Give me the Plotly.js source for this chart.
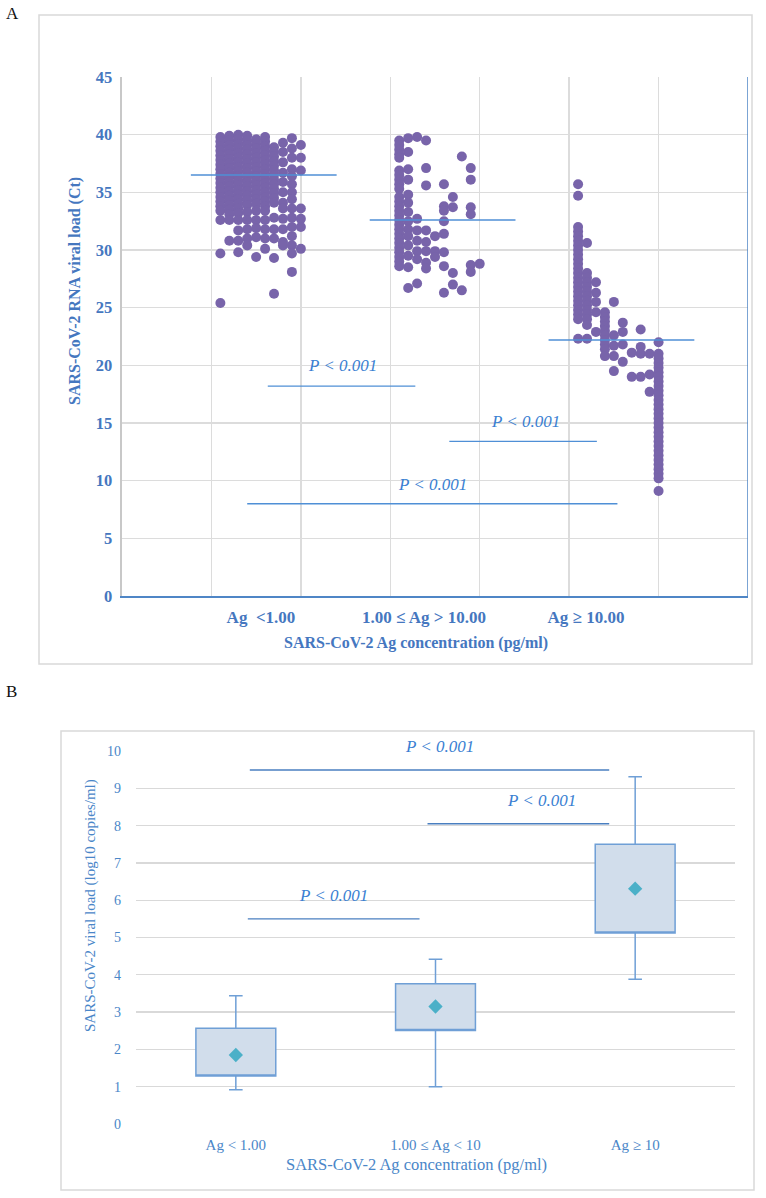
<!DOCTYPE html>
<html>
<head>
<meta charset="utf-8">
<script src="https://cdn.plot.ly/plotly-3.0.1.min.js"></script>
<style>html,body{margin:0;padding:0;background:#fff;}#chart{width:766px;height:1198px;}</style>
</head>
<body>
<div id="chart"></div>
<script>
// ---------- Panel A data (Ct values per jitter column) ----------
const catLabelsA = ['Ag\u00a0 <1.00', '1.00 \u2264 Ag > 10.00', 'Ag \u2265 10.00'];
const catLabelPosA = [1.554, 3.377, 5.188];
const groupStartA = [1, 3, 5];
const columnStep = 0.1;

const ctLow = [
  [39.8,39.4,39.0,38.6,38.2,37.8,37.4,37.0,36.6,36.2,35.8,35.4,35.0,34.6,34.2,33.8,33.4,32.6,29.7,25.4],
  [39.9,39.5,39.1,38.7,38.3,37.9,37.5,37.1,36.7,36.3,35.9,35.5,35.1,34.7,34.3,33.9,33.5,33.1,32.6,30.8],
  [40.0,39.6,39.2,38.8,38.4,38.0,37.6,37.2,36.8,36.4,36.0,35.6,35.2,34.8,34.4,34.0,33.6,33.2,32.6,31.7,30.8,29.8],
  [39.9,39.5,39.1,38.7,38.3,37.9,37.5,37.1,36.7,36.3,35.9,35.5,35.1,34.7,34.3,33.9,33.3,32.6,31.8,31.0,30.4],
  [39.6,39.2,38.8,38.4,38.0,37.6,37.2,36.8,36.4,36.0,35.6,35.2,34.8,34.4,34.0,33.4,32.6,31.9,31.1,29.4],
  [39.8,39.4,39.0,38.6,38.2,37.8,37.4,37.0,36.6,36.2,35.8,35.4,35.0,34.6,34.2,33.8,33.4,32.6,31.8,31.0,30.1],
  [38.9,38.5,38.1,37.7,37.3,36.9,36.5,36.1,35.7,35.3,34.9,34.5,34.1,32.8,31.8,31.0,29.3,26.2],
  [39.3,38.5,37.6,36.7,35.9,35.0,34.1,33.6,32.7,31.8,30.7,30.4],
  [39.7,38.8,38.0,37.0,36.4,35.7,35.0,34.4,33.6,32.8,32.0,31.2,30.4,29.7,28.1],
  [39.1,38.0,36.9,33.6,32.7,32.0,30.1]
];
const ctMid = [
  [39.5,39.1,38.7,38.3,38.0,36.9,36.5,36.1,35.7,35.3,34.6,34.2,33.8,33.4,33.0,32.6,32.2,31.8,31.4,31.0,30.6,30.2,29.8,29.4,29.0,28.6],
  [39.7,38.5,37.0,36.1,34.8,34.1,33.3,32.5,31.8,31.2,30.4,29.5,28.5,26.7],
  [39.8,32.7,31.7,30.8,29.9,29.2,27.1],
  [39.5,37.1,35.6,31.7,30.7,29.9,28.9,28.4],
  [31.2,29.9,29.4],
  [35.7,33.8,33.4,32.5,31.4,29.8,28.6,26.3],
  [34.6,33.7,28.0,27.0],
  [38.1,26.5],
  [37.1,36.1,33.7,33.1,28.7,28.1],
  [28.8]
];
const ctHigh = [
  [35.7,34.7,32.0,31.6,31.2,30.8,30.4,30.0,29.6,29.2,28.8,28.4,28.0,27.6,27.2,26.8,26.4,26.0,25.6,25.2,24.8,24.4,24.0,22.3],
  [30.6,28.0,27.6,27.2,26.8,26.4,26.0,25.6,25.2,24.8,24.4,24.0,23.5,22.3],
  [27.2,26.3,25.5,24.6,22.9],
  [24.6,24.2,23.8,23.4,23.0,22.6,22.2,21.8,21.4,20.8],
  [25.5,22.6,21.7,20.8,19.5],
  [23.7,22.9,21.8,20.3],
  [21.1,19.0],
  [23.1,21.6,21.0,19.0],
  [21.0,19.2,17.7],
  [22.0,21.0,20.6,20.2,19.8,19.4,19.0,18.6,18.2,17.8,17.4,17.0,16.6,16.2,15.8,15.4,15.0,14.6,14.2,13.8,13.4,13.0,12.6,12.2,11.8,11.4,11.0,10.6,10.2,9.1]
];
const meanCtA = [36.5, 32.6, 22.2];
const meanSpanA = [-0.23, 1.40];
const pLineYA = [18.2, 13.4, 8.0];
const pLineXA = [[1.63, 3.28], [3.66, 5.31], [1.40, 5.54]];
const pTextXA = [2.47, 4.51, 3.47];
const pTextYA = [19.95, 15.1, 9.7];

// ---------- Panel B data (log10 copies/ml) ----------
const catLabelsB = ['Ag < 1.00', '1.00 \u2264 Ag < 10', 'Ag \u2265 10'];
const q1B = [1.29, 2.51, 5.12];
const q3B = [2.57, 3.76, 7.50];
const lowB = [0.92, 1.00, 3.88];
const highB = [3.44, 4.42, 9.31];
const meanB = [1.85, 3.15, 6.31];
const pLineYB = [9.49, 8.05, 5.50];
const pLineXB = [[0.07, 1.87], [0.96, 1.87], [0.06, 0.92]];
const pTextXB = [1.02, 1.53, 0.49];
const pTextYB = [10.05, 8.6, 6.06];

// ---------- build ----------
const W = 766, H = 1198;
const px = v => v / W;
const py = v => 1 - v / H;

const dotsX = [], dotsY = [];
[ctLow, ctMid, ctHigh].forEach((grp, g) => {
  grp.forEach((col, c) => {
    col.forEach(v => { dotsX.push(+(groupStartA[g] + (c + 1) * columnStep).toFixed(2)); dotsY.push(v); });
  });
});

const blueA = '#4577bf';
const lineBlue = '#4f8fd6';
const pBlue = '#3a80d2';
const blueB = '#4a86c8';
const serif = 'Liberation Serif';

const traces = [];
traces.push({
  type: 'scatter', mode: 'markers', x: dotsX, y: dotsY, xaxis: 'x', yaxis: 'y',
  marker: {color: '#7864aa', size: 10, line: {width: 0}}, hoverinfo: 'x+y', showlegend: false
});
meanCtA.forEach((m, i) => {
  traces.push({
    type: 'scatter', mode: 'lines', xaxis: 'x', yaxis: 'y', showlegend: false,
    x: [groupStartA[i] + meanSpanA[0], groupStartA[i] + meanSpanA[1]], y: [m, m],
    line: {color: lineBlue, width: 1.5}, hoverinfo: 'y'
  });
});
pLineYA.forEach((y, i) => {
  traces.push({
    type: 'scatter', mode: 'lines', xaxis: 'x', yaxis: 'y', showlegend: false,
    x: pLineXA[i], y: [y, y], line: {color: lineBlue, width: 1.3}, hoverinfo: 'skip'
  });
});

// Panel B boxes
traces.push({
  type: 'box', xaxis: 'x2', yaxis: 'y2', x: [0, 1, 2],
  q1: q1B, median: q1B, q3: q3B, lowerfence: lowB, upperfence: highB,
  width: 0.4, whiskerwidth: 0.17, boxpoints: false,
  fillcolor: '#d1ddeb', line: {color: '#6f9fd6', width: 1.5}, showlegend: false
});
traces.push({
  type: 'scatter', mode: 'markers', xaxis: 'x2', yaxis: 'y2', x: [0, 1, 2], y: meanB,
  marker: {symbol: 'diamond', size: 11, color: '#4bb0c8'}, showlegend: false
});
pLineYB.forEach((y, i) => {
  traces.push({
    type: 'scatter', mode: 'lines', xaxis: 'x2', yaxis: 'y2', showlegend: false,
    x: pLineXB[i], y: [y, y], line: {color: '#4a7fc0', width: 1.3}, hoverinfo: 'skip'
  });
});

const annotations = [];
function ann(o) { annotations.push(Object.assign({showarrow: false, xanchor: 'center', yanchor: 'middle'}, o)); }
ann({xref: 'paper', yref: 'paper', x: px(4), y: py(2), xanchor: 'left', yanchor: 'top',
  text: 'A', font: {family: serif, size: 17, color: '#111'}});
ann({xref: 'paper', yref: 'paper', x: px(4), y: py(680), xanchor: 'left', yanchor: 'top',
  text: 'B', font: {family: serif, size: 17, color: '#111'}});
ann({xref: 'paper', yref: 'paper', x: px(75), y: py(291), textangle: -90,
  text: '<b>SARS-CoV-2 RNA viral load (Ct)</b>', font: {family: serif, size: 16, color: blueA}});
ann({xref: 'paper', yref: 'paper', x: px(416), y: py(643),
  text: '<b>SARS-CoV-2 Ag concentration (pg/ml)</b>', font: {family: serif, size: 16, color: blueA}});
pTextXA.forEach((x, i) => {
  ann({xref: 'x', yref: 'y', x: x, y: pTextYA[i], text: 'P < 0.001',
    font: {family: serif, size: 17, color: pBlue, style: 'italic'}});
});
ann({xref: 'paper', yref: 'paper', x: px(90), y: py(906), textangle: -90,
  text: 'SARS-CoV-2 viral load (log10 copies/ml)', font: {family: serif, size: 15, color: blueB}});
ann({xref: 'paper', yref: 'paper', x: px(416), y: py(1164),
  text: 'SARS-CoV-2 Ag concentration (pg/ml)', font: {family: serif, size: 16.5, color: blueB}});
pTextXB.forEach((x, i) => {
  ann({xref: 'x2', yref: 'y2', x: x, y: pTextYB[i] - 0.24, yanchor: 'bottom', text: 'P < 0.001',
    font: {family: serif, size: 17, color: pBlue, style: 'italic'}});
});

const shapes = [
  {type: 'rect', xref: 'paper', yref: 'paper', x0: px(39), x1: px(752), y0: py(664), y1: py(15),
   line: {color: '#d9d9d9', width: 1.5}, layer: 'below'},
  {type: 'rect', xref: 'paper', yref: 'paper', x0: px(61), x1: px(754), y0: py(1190), y1: py(731),
   line: {color: '#d9d9d9', width: 1.5}, layer: 'below'},
  {type: 'line', xref: 'x', yref: 'y', x0: 7, x1: 7, y0: 0, y1: 45, line: {color: '#4f86c6', width: 1.5}}
];

const layout = {
  width: W, height: H, margin: {l: 0, r: 0, t: 0, b: 0},
  paper_bgcolor: '#fff', plot_bgcolor: 'rgba(0,0,0,0)', showlegend: false,
  font: {family: serif},
  xaxis: {
    domain: [px(122), px(748)], anchor: 'y', range: [0, 7], fixedrange: true,
    tickmode: 'array', tickvals: catLabelPosA, ticktext: catLabelsA, ticks: '',
    tickfont: {family: serif, size: 17, color: blueA, weight: 'bold'}, ticklabelstandoff: 5,
    showgrid: false, zeroline: false,
    minor: {tickmode: 'linear', tick0: 0, dtick: 1, showgrid: true, gridcolor: '#dcdcdc', gridwidth: 1.3, ticks: ''},
    showline: true, linecolor: '#4f86c6', linewidth: 1.5
  },
  yaxis: {
    domain: [py(596), py(77)], anchor: 'x', range: [0, 45], dtick: 5, fixedrange: true,
    gridcolor: '#dcdcdc', gridwidth: 1.3, zeroline: false, ticks: '',
    showline: true, linecolor: '#c8c8c8', linewidth: 2.5,
    tickfont: {family: serif, size: 16.5, color: blueA, weight: 'bold'}, ticklabelstandoff: 4
  },
  xaxis2: {
    domain: [px(136), px(735)], anchor: 'y2', range: [-0.5, 2.5], fixedrange: true,
    tickmode: 'array', tickvals: [0, 1, 2], ticktext: catLabelsB, ticks: '',
    tickfont: {family: serif, size: 15, color: blueB}, ticklabelstandoff: 10,
    showgrid: false, zeroline: false, showline: false
  },
  yaxis2: {
    domain: [py(1124), py(751)], anchor: 'x2', range: [0, 10], dtick: 1, fixedrange: true,
    gridcolor: '#d9d9d9', gridwidth: 1.3, zeroline: false, showline: false, ticks: '',
    tickfont: {family: serif, size: 14, color: blueB}, ticklabelstandoff: 14
  },
  annotations: annotations,
  shapes: shapes
};

Plotly.newPlot('chart', traces, layout, {displayModeBar: false, staticPlot: true});
</script>
</body>
</html>
